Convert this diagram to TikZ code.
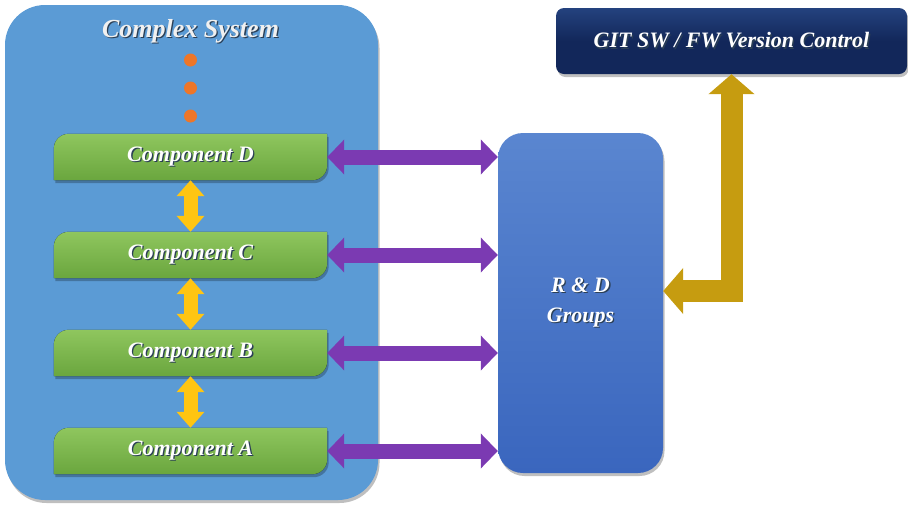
\documentclass[tikz,border=0pt]{standalone}
\usepackage{fontspec}
\setmainfont{Liberation Serif}
\usetikzlibrary{arrows.meta,shadows}

\definecolor{sysBlue}{HTML}{5B9BD5}
\definecolor{compTop}{HTML}{8FC65E}
\definecolor{compBot}{HTML}{6AA63E}
\definecolor{rdTop}{HTML}{5A86D0}
\definecolor{rdBot}{HTML}{3A66BE}
\definecolor{gitTop}{HTML}{24427E}
\definecolor{gitBot}{HTML}{12275A}
\definecolor{purpleA}{HTML}{7B3AB2}
\definecolor{yellowA}{HTML}{FFC512}
\definecolor{goldA}{HTML}{C69C10}
\definecolor{dotFill}{HTML}{EE7628}
\definecolor{shadowc}{HTML}{2B3F55}
\definecolor{titleGray}{HTML}{F0F0F0}

\pgfdeclarelayer{background}
\pgfsetlayers{background,main}

% text with a small offset shadow
\newcommand\shtext[1]{\makebox[0pt][l]{\kern1.3pt\raisebox{-1.3pt}{\color{shadowc}#1}}#1}

% green box with rounded top-left and bottom-right corners, drawn behind a node
\newcommand\compshape[1]{%
  \begin{pgfonlayer}{background}
  \fill[compfill] (#1.south west) -- ([yshift=-15pt]#1.north west)
    .. controls ([yshift=-6.7pt]#1.north west) and ([xshift=6.7pt]#1.north west) .. ([xshift=15pt]#1.north west)
    -- (#1.north east) -- ([yshift=15pt]#1.south east)
    .. controls ([yshift=6.7pt]#1.south east) and ([xshift=-6.7pt]#1.south east) .. ([xshift=-15pt]#1.south east)
    -- cycle;
  \end{pgfonlayer}}

\tikzset{
  boxfont/.style={font=\bfseries\itshape\fontsize{22}{30}\selectfont, text=white},
  softshadow/.style={drop shadow={shadow xshift=1.5pt, shadow yshift=-3pt, opacity=0.25, fill=black}},
  sysbox/.style={rectangle, rounded corners=40pt, fill=sysBlue, minimum width=373pt,
    minimum height=495pt, inner sep=0pt, softshadow},
  titletext/.style={font=\bfseries\itshape\fontsize{26}{30}\selectfont, text=titleGray},
  comp/.style={boxfont, minimum width=273pt, minimum height=46pt, inner sep=0pt},
  compfill/.style={top color=compTop, bottom color=compBot, softshadow},
  rdbox/.style={boxfont, rectangle, rounded corners=25pt, top color=rdTop, bottom color=rdBot,
    minimum width=165pt, minimum height=340pt, inner sep=0pt, align=center, softshadow},
  gitbox/.style={boxfont, rectangle, rounded corners=8pt, top color=gitTop, bottom color=gitBot,
    middle color=gitBot, minimum width=351pt, minimum height=66pt, inner sep=0pt, softshadow},
  dot/.style={circle, minimum size=13pt, inner sep=0pt, fill=dotFill},
  purplearrow/.style={draw=purpleA, line width=15pt,
    arrows={Triangle[width=34pt,length=17pt]-Triangle[width=34pt,length=17pt]}},
  yellowarrow/.style={draw=yellowA, line width=14pt,
    arrows={Triangle[width=27pt,length=16pt]-Triangle[width=27pt,length=16pt]}},
  goldarrow/.style={draw=goldA, line width=22pt, line join=miter,
    arrows={Triangle[width=45pt,length=20pt]-Triangle[width=45pt,length=20pt]}},
}

\begin{document}
\begin{tikzpicture}[x=1pt,y=-1pt]
\useasboundingbox (0,0) rectangle (908,504);

% complex system container
\begin{pgfonlayer}{background}
\node[sysbox] (sys) at (191.5,252.5) {};
\end{pgfonlayer}
\node[titletext] (title) at (190.5,32) {\shtext{Complex System}};

% continuation dots
\node[dot] (dot1) at (190.5,60) {};
\node[dot] (dot2) at (190.5,88) {};
\node[dot] (dot3) at (190.5,116) {};

% components
\node[comp] (compD) at (190.5,157) {\shtext{Component D}};
\node[comp] (compC) at (190.5,255) {\shtext{Component C}};
\node[comp] (compB) at (190.5,353) {\shtext{Component B}};
\node[comp] (compA) at (190.5,451) {\shtext{Component A}};
\compshape{compD}
\compshape{compC}
\compshape{compB}
\compshape{compA}

% R&D groups and version control
\node[rdbox] (rd) at (580.5,303) {\shtext{R \& D}\\\shtext{Groups}};
\node[gitbox] (git) at (731.5,41) {\shtext{GIT SW / FW Version Control}};

% links between components
\draw[yellowarrow] (compD.south) -- (compC.north);
\draw[yellowarrow] (compC.south) -- (compB.north);
\draw[yellowarrow] (compB.south) -- (compA.north);

% links from components to R&D
\draw[purplearrow] (compD.east) -- (rd.west |- compD.east);
\draw[purplearrow] (compC.east) -- (rd.west |- compC.east);
\draw[purplearrow] (compB.east) -- (rd.west |- compB.east);
\draw[purplearrow] (compA.east) -- (rd.west |- compA.east);

% R&D to version control
\draw[goldarrow] (git.south) |- ([yshift=12pt]rd.east);
\end{tikzpicture}
\end{document}
